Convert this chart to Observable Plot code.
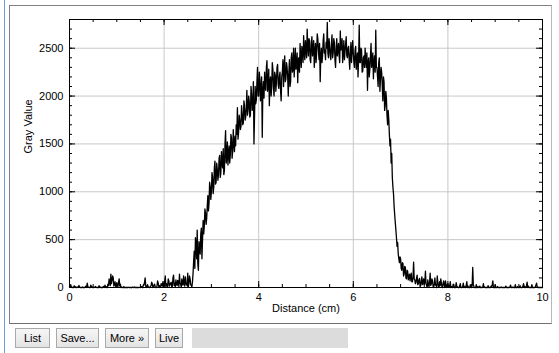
<!DOCTYPE html>
<html>
<head>
<meta charset="utf-8">
<script src="https://cdn.jsdelivr.net/npm/d3@7"></script>
<script src="https://cdn.jsdelivr.net/npm/@observablehq/plot@0.6"></script>
<style>
  html, body { margin: 0; padding: 0; background: #fff; }
  #win { position: relative; width: 559px; height: 353px; overflow: hidden; font-family: "Liberation Sans", Arial, sans-serif; }
  #edge { position: absolute; left: 4px; top: 0; width: 1px; height: 353px; background: #6a9fd8; }
  #panel { position: absolute; left: 9px; top: 5px; width: 541px; height: 317px;
           border-top: 1px solid #808080; border-left: 1px solid #808080; border-bottom: 1px solid #707070; border-right: 1px solid #b8b8b8; }
  #chart { position: absolute; left: 0; top: 0; }
  .btn { position: absolute; top: 328px; height: 20px; box-sizing: border-box; border: 1px solid #a9a9a9;
         background: linear-gradient(#f6f6f6, #e4e4e4); font: 11px "Liberation Sans", Arial, sans-serif; color: #000;
         display: flex; align-items: center; justify-content: center; }
  .status { position: absolute; top: 328px; left: 192px; width: 156px; height: 20px; background: #dcdcdc; }
</style>
</head>
<body>
<div id="win">
  <div id="edge"></div>
  <div id="panel"></div>
  <div id="chart"></div>
  <div class="btn" style="left:15px;width:35px">List</div>
  <div class="btn" style="left:56px;width:43px">Save...</div>
  <div class="btn" style="left:105px;width:44px">More »</div>
  <div class="btn" style="left:155px;width:28px">Live</div>
  <div class="status"></div>
</div>
<script>
// Line profile: gray value sampled every 0.0125 cm along the line (0 – 10 cm), 40 samples per row
const sampleStep = 0.0125;
const grayValue = [
  12,0, 30,8, 5,0, 0,0, 18,2, 8,0, 0,5, 3,0, 22,4, 0,0, 0,0, 6,0, 0,0, 0,10, 15,0, 45,12, 2,0, 0,0, 25,5, 10,0,
  0,0, 4,0, 10,3, 0,0, 0,0, 20,0, 6,0, 0,0, 0,8, 12,0, 25,5, 8,0, 0,35, 20,90, 60,20, 140,40, 75,120, 100,15, 30,60, 15,5,
  50,20, 10,60, 90,15, 35,0, 5,0, 0,0, 8,0, 0,0, 0,0, 0,0, 3,0, 0,0, 0,0, 0,4, 0,0, 5,0, 0,0, 0,0, 0,0, 2,0,
  0,5, 10,0, 0,30, 25,60, 100,10, 15,0, 30,8, 5,0, 0,12, 20,55, 40,0, 10,25, 35,5, 0,0, 15,70, 45,10, 20,0, 5,40, 30,15, 60,10,
  20,65, 120,5, 40,25, 10,90, 70,15, 30,45, 55,0, 15,100, 130,20, 45,10, 80,35, 20,75, 60,10, 140,50, 35,0, 90,30, 25,120, 50,15, 110,40, 30,20,
  150,10, 40,120, 90,30, 20,5, 60,150, 280,380, 200,520, 450,300, 600,250, 180,480, 420,350, 560,620, 300,500, 700,560, 640,820, 780,660, 720,850, 960,800, 880,1100, 1050,920,
  1000,1200, 1150,980, 1050,1250, 1320,1080, 1100,1300, 1230,1120, 1180,1350, 1380,1150, 1200,1420, 1300,1250, 1450,1180, 1220,1500, 1640,1300, 1350,1520, 1280,1400, 1480,1300, 1380,1600, 1560,1350, 1420,1650, 1500,1420,
  1580,1480, 1700,1600, 1880,1550, 1620,1800, 1750,1650, 1680,1900, 1820,1700, 1720,1950, 1900,1750, 1780,1880, 2060,1800, 1850,2000, 1950,1780, 1800,2100, 2020,1850, 1900,2150, 1500,1800, 2100,1920, 1960,2150, 2300,2000,
  2000,2250, 2180,1950, 2080,2200, 1570,2050, 2150,1980, 2250,2100, 2060,2300, 2370,2050, 2120,2280, 1900,2150, 2200,2000, 2100,2350, 2280,2080, 2000,2250, 2220,2050, 2150,2300, 2330,2120, 2080,2200, 2250,2050, 1950,2200,
  2250,2380, 2100,2300, 2420,2150, 2180,2350, 2300,2200, 2000,2250, 2380,2100, 2150,2400, 2450,2250, 2280,2500, 2200,2350, 2500,2280, 2320,2450, 2140,2380, 2400,2250, 2550,2400, 2300,2520, 2450,2350, 2630,2450, 2380,2580,
  2500,2400, 2700,2520, 2420,2600, 2580,2380, 2350,2550, 2620,2420, 2480,2580, 2300,2450, 2550,2350, 2450,2650, 2600,2480, 2380,2550, 2150,2420, 2500,2350, 2420,2580, 2650,2450, 2480,2380, 2560,2500, 2770,2450, 2400,2600,
  2520,2420, 2380,2550, 2640,2400, 2450,2600, 2560,2380, 2300,2500, 2600,2420, 2480,2550, 2420,2350, 2680,2480, 2500,2600, 2350,2450, 2580,2380, 2460,2550, 2620,2420, 2400,2500, 2520,2380, 2280,2450, 2560,2350, 2470,2580,
  2450,2350, 2300,2480, 2520,2280, 2380,2450, 2200,2400, 2740,2350, 2350,2500, 2480,2250, 2260,2400, 2420,2300, 2500,2380, 2300,2450, 2060,2350, 2400,2200, 2280,2420, 2550,2300, 2350,2450, 2180,2350, 2420,2250, 2690,2300,
  2300,2200, 2100,2350, 2400,2050, 2180,2300, 2250,2100, 1950,2200, 2150,1850, 1900,2050, 1980,1800, 1700,1850, 1760,1600, 1480,1550, 1300,1400, 1150,1050, 980,850, 760,680, 600,520, 430,470, 350,300, 260,320,
  300,200, 180,260, 250,120, 140,220, 210,100, 90,180, 170,80, 110,140, 70,120, 150,60, 60,110, 265,90, 80,40, 50,100, 130,30, 40,80, 95,10, 20,70, 110,30, 60,90,
  30,60, 170,40, 20,0, 80,30, 10,50, 150,20, 40,90, 70,10, 0,40, 100,25, 30,0, 120,50, 15,0, 60,20, 90,45, 5,0, 50,70, 20,0, 70,15, 0,30,
  40,10, 0,20, 60,0, 10,0, 0,35, 30,0, 0,0, 50,15, 5,0, 0,0, 20,40, 0,0, 0,10, 45,0, 10,0, 0,25, 60,0, 15,0, 0,0, 30,5,
  0,20, 210,30, 10,0, 0,0, 30,0, 0,10, 0,0, 15,0, 0,0, 0,5, 40,0, 5,0, 0,0, 0,0, 20,0, 0,0, 0,15, 10,30, 70,0, 0,0,
  30,0, 0,0, 10,0, 0,0, 0,0, 5,0, 0,0, 0,0, 0,0, 15,0, 0,0, 0,0, 0,10, 25,0, 0,0, 5,0, 0,0, 30,0, 0,0, 10,0,
  0,0, 20,0, 0,0, 0,15, 40,0, 10,0, 0,20, 55,0, 15,0, 0,0, 0,0, 30,0, 0,0, 0,0, 10,25, 45,0, 5,0, 0,0, 0,0, 0,0,
  0
];

const xTicks = [0, 2, 4, 6, 8, 10];
const yTicks = [0, 500, 1000, 1500, 2000, 2500];
const xMinorTicks = d3.range(0, 10.001, 0.5);
const yMinorTicks = d3.range(0, 2801, 100);
const xTitle = "Distance (cm)";
const yTitle = "Gray Value";

const profile = grayValue.map((v, i) => ({distance: i * sampleStep, value: v}));

const W = 559, H = 324, mL = 69, mR = 17, mT = 19, mB = 37;
const innerW = W - mL - mR, innerH = H - mT - mB;
const majorLen = 6, minorLen = 3;

const gridStyle = {stroke: "#c8c8c8", strokeOpacity: 1, strokeWidth: 1};
const tickStyle = {stroke: "#000", strokeWidth: 1};
const textStyle = {fontSize: 11, fill: "#000"};

const chart = Plot.plot({
  width: W, height: H,
  marginLeft: mL, marginRight: mR, marginTop: mT, marginBottom: mB,
  style: {fontFamily: "'Liberation Sans', Arial, sans-serif", fontSize: "11px", color: "#000", background: "transparent"},
  x: {domain: [0, 10]},
  y: {domain: [0, 2800]},
  marks: [
    Plot.gridX(xTicks.slice(1, -1), gridStyle),
    Plot.gridY(yTicks.slice(1), gridStyle),
    Plot.line(profile, {x: "distance", y: "value", stroke: "#000", strokeWidth: 1.3}),
    Plot.frame({stroke: "#000"}),
    // inward-pointing tick marks on all four sides
    Plot.tickX(xMinorTicks, {x: d => d, insetTop: innerH - minorLen, ...tickStyle}),
    Plot.tickX(xMinorTicks, {x: d => d, insetBottom: innerH - minorLen, ...tickStyle}),
    Plot.tickX(xTicks, {x: d => d, insetTop: innerH - majorLen, ...tickStyle}),
    Plot.tickX(xTicks, {x: d => d, insetBottom: innerH - majorLen, ...tickStyle}),
    Plot.tickY(yMinorTicks, {y: d => d, insetRight: innerW - minorLen, ...tickStyle}),
    Plot.tickY(yMinorTicks, {y: d => d, insetLeft: innerW - minorLen, ...tickStyle}),
    Plot.tickY(yTicks, {y: d => d, insetRight: innerW - majorLen, ...tickStyle}),
    Plot.tickY(yTicks, {y: d => d, insetLeft: innerW - majorLen, ...tickStyle}),
    Plot.axisX(xTicks, {tickSize: 0, tickPadding: 6, tickFormat: d => String(d), label: null}),
    Plot.axisY(yTicks, {tickSize: 0, tickPadding: 6, tickFormat: d => String(d), label: null}),
    Plot.text([xTitle], {frameAnchor: "bottom", dy: 24, ...textStyle}),
    Plot.text([yTitle], {frameAnchor: "left", rotate: -90, dx: -41, ...textStyle})
  ]
});
document.getElementById("chart").append(chart);
</script>
</body>
</html>
